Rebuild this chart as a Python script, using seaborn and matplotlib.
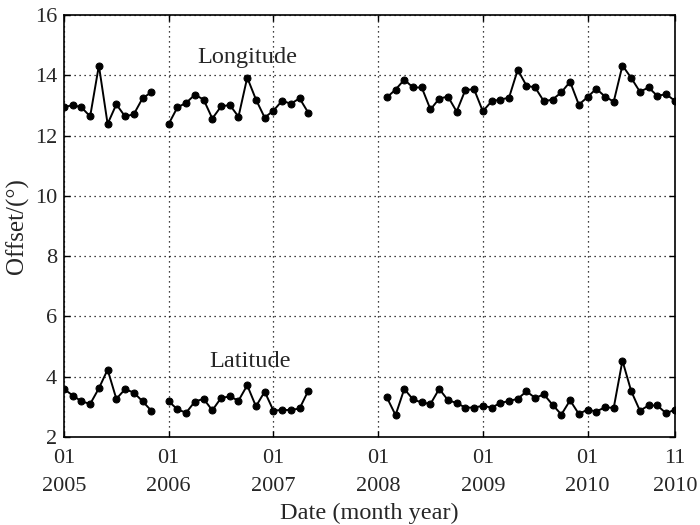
import pandas as pd
import seaborn as sns
import matplotlib.pyplot as plt
import numpy as np

# Monthly offsets. Month index 0 = Jan 2005.
seg_start = [0, 12, 37]  # Jan 2005, Jan 2006, Feb 2008

lon_2005 = [12.94, 13.02, 12.94, 12.64, 14.33, 12.39, 13.04, 12.64, 12.71, 13.24, 13.44]
lon_2006 = [12.39, 12.94, 13.09, 13.36, 13.20, 12.57, 12.97, 13.02, 12.63, 13.93,
            13.20, 12.60, 12.83, 13.16, 13.06, 13.24, 12.76]
lon_2008 = [13.27, 13.53, 13.86, 13.60, 13.60, 12.87, 13.23, 13.30, 12.80, 13.52,
            13.54, 12.81, 13.14, 13.20, 13.26, 14.19, 13.66, 13.60, 13.14, 13.20,
            13.44, 13.79, 13.03, 13.28, 13.56, 13.30, 13.13, 14.33, 13.92, 13.46,
            13.60, 13.32, 13.38, 13.16]

lat_2005 = [3.59, 3.37, 3.18, 3.09, 3.61, 4.23, 3.26, 3.58, 3.47, 3.18, 2.87]
lat_2006 = [3.18, 2.91, 2.80, 3.17, 3.26, 2.88, 3.29, 3.34, 3.20, 3.71,
            3.01, 3.50, 2.87, 2.89, 2.89, 2.94, 3.53]
lat_2008 = [3.31, 2.72, 3.59, 3.24, 3.14, 3.09, 3.59, 3.22, 3.12, 2.97,
            2.97, 3.03, 2.97, 3.12, 3.19, 3.26, 3.51, 3.29, 3.41, 3.06,
            2.74, 3.21, 2.76, 2.90, 2.84, 2.98, 2.96, 4.53, 3.52, 2.87,
            3.04, 3.04, 2.78, 2.90]

tick_months = [0, 12, 24, 36, 48, 60, 70]
tick_labels = ['01\n2005', '01\n2006', '01\n2007', '01\n2008', '01\n2009', '01\n2010', '11\n2010']

# Build long table, one unit per continuous segment
rows = []
for name, segs in [('lon', [lon_2005, lon_2006, lon_2008]),
                   ('lat', [lat_2005, lat_2006, lat_2008])]:
    for i, (start, vals) in enumerate(zip(seg_start, segs)):
        for k, v in enumerate(vals):
            rows.append({'month': start + k, 'offset': v, 'unit': f'{name}{i}'})
df = pd.DataFrame(rows)

sns.set_style('ticks')
plt.rcParams['font.family'] = ['Liberation Serif', 'DejaVu Serif']

fig, ax = plt.subplots(figsize=(7, 5.25), dpi=100)
fig.subplots_adjust(left=0.0914, right=0.964, top=0.971, bottom=0.168)

sns.lineplot(data=df, x='month', y='offset', units='unit', estimator=None,
             color='black', linewidth=1.4, marker='o', markersize=5,
             markeredgecolor='black', ax=ax, legend=False)

ax.set_xlim(0, 70)
ax.set_ylim(2, 16)
ax.set_yticks(np.arange(2, 17, 2))
ax.set_xticks(tick_months)
ax.set_xticklabels(tick_labels, linespacing=1.6)
ax.grid(True, linestyle=(0, (1, 3)), color='black', linewidth=0.9)
ax.tick_params(direction='in', top=True, right=True, labelsize=16, length=4,
               width=1, color='black')
ax.tick_params(axis='x', pad=9)
ax.tick_params(axis='y', pad=5)
for s in ax.spines.values():
    s.set_linewidth(1.2)
    s.set_color('black')

ax.text(21, 14.6, 'Longitude', fontsize=17.5, ha='center', va='center')
ax.text(21.3, 4.5, 'Latitude', fontsize=17.5, ha='center', va='center')

ax.set_xlabel('Date (month year)', fontsize=17.5, labelpad=5)
ax.set_ylabel('Offset/(°)', fontsize=18, labelpad=4)

fig.savefig('out.png', dpi=100)
